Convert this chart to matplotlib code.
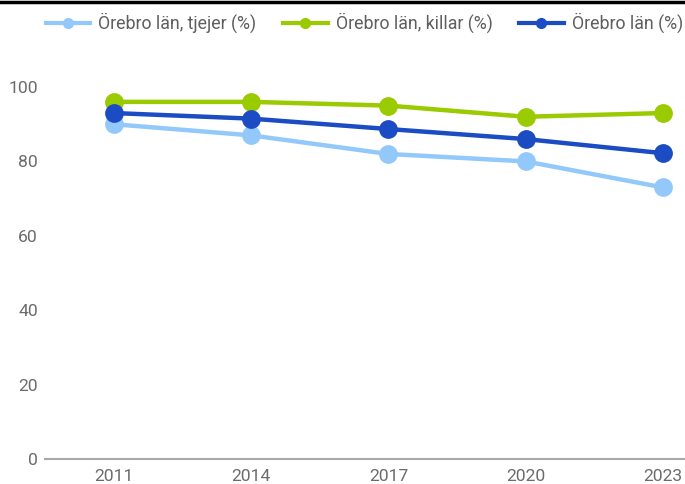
import matplotlib
matplotlib.use('Agg')
import matplotlib.pyplot as plt
from matplotlib.lines import Line2D

years = ['2011', '2014', '2017', '2020', '2023']
tjejer = [90, 87, 82, 80, 73]
killar = [96, 96, 95, 92, 93]
totalt = [93, 91.5, 88.7, 86, 82.2]

series_labels = ['Örebro län, tjejer (%)', 'Örebro län, killar (%)', 'Örebro län (%)']
series_colors = ['#93c8fa', '#9aca00', '#1b4cc4']
yticks = [0, 20, 40, 60, 80, 100]

plt.rcParams['font.family'] = ['Roboto', 'DejaVu Sans']

fig = plt.figure(figsize=(6.85, 4.84), dpi=100)
# axes reaches past the right edge, the source image is cropped there
ax = fig.add_axes([45 / 685, 25 / 484, 686.75 / 685, 372 / 484])

x = list(range(len(years)))
for vals, col in zip([tjejer, killar, totalt], series_colors):
    ax.plot(x, vals, color=col, lw=3.2, marker='o', ms=12.5, solid_capstyle='round')

ax.set_xlim(-0.5, 4.5)
ax.set_ylim(0, 100)
ax.set_xticks(x)
ax.set_xticklabels(years)
ax.set_yticks(yticks)
ax.set_yticklabels([str(t) for t in yticks])
ax.tick_params(axis='both', length=0, labelsize=12.6, colors='#6b6b6b')
ax.tick_params(axis='y', pad=5)
ax.tick_params(axis='x', pad=7)
for s in ['top', 'right', 'left']:
    ax.spines[s].set_visible(False)
ax.spines['bottom'].set_color('#a8a8a8')
ax.spines['bottom'].set_linewidth(1.5)

handles = [Line2D([], [], color=c, lw=3, marker='o', ms=7) for c in series_colors]
fig.legend(handles, series_labels, loc='center left', bbox_to_anchor=(37 / 685, 1 - 23 / 484),
           ncol=3, frameon=False, fontsize=12.8, labelcolor='#5f5f5f',
           handlelength=2.5, handletextpad=0.45, columnspacing=1.5, borderpad=0)

# black border along the top of the image
fig.add_artist(Line2D([0, 1], [1 - 1.5 / 484, 1 - 1.5 / 484], color='black', lw=2.5,
                      transform=fig.transFigure))

fig.savefig('out.png', dpi=100)
